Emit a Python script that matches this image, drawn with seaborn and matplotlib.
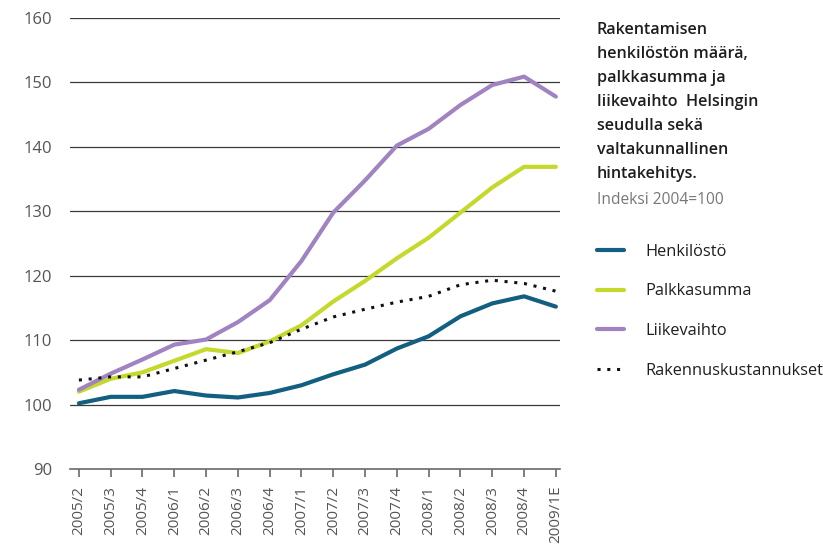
import pandas as pd
import matplotlib
matplotlib.use("Agg")
import matplotlib.pyplot as plt
import seaborn as sns

# quarters on the x axis
quarters = ["2005/2", "2005/3", "2005/4", "2006/1", "2006/2", "2006/3", "2006/4",
            "2007/1", "2007/2", "2007/3", "2007/4", "2008/1", "2008/2", "2008/3",
            "2008/4", "2009/1E"]

# index values, 2004 = 100
henkilosto = [100.2, 101.2, 101.2, 102.1, 101.4, 101.1, 101.8, 103.0,
              104.7, 106.2, 108.7, 110.6, 113.7, 115.7, 116.8, 115.2]
palkkasumma = [102.0, 104.0, 105.0, 106.8, 108.6, 108.0, 109.8, 112.3,
               116.0, 119.2, 122.7, 125.9, 129.8, 133.7, 136.9, 136.9]
liikevaihto = [102.3, 104.8, 107.0, 109.3, 110.1, 112.8, 116.2, 122.3,
               129.8, 134.8, 140.2, 142.8, 146.5, 149.6, 150.9, 147.8]
rakennus = [103.8, 104.3, 104.3, 105.6, 106.9, 108.2, 109.6, 111.7,
            113.6, 114.8, 115.9, 116.8, 118.6, 119.3, 118.8, 117.6]

series_names = ["Henkilöstö", "Palkkasumma", "Liikevaihto", "Rakennuskustannukset"]
colors = ["#125f80", "#c5d92d", "#a183c2", "#111111"]

# long form table for seaborn
rows = []
for name, vals in zip(series_names, [henkilosto, palkkasumma, liikevaihto, rakennus]):
    for i, v in enumerate(vals):
        rows.append({"pos": i, "quarter": quarters[i], "sarja": name, "arvo": v})
df = pd.DataFrame(rows)

sns.set_style("white")
plt.rcParams["font.family"] = ["Open Sans", "DejaVu Sans"]

fig = plt.figure(figsize=(8.23, 5.46), dpi=100)
ax = fig.add_axes([70 / 823, 1 - 469 / 546, 490 / 823, 451 / 546])

# grid lines first so the series sit on top
for yv in range(100, 161, 10):
    ax.axhline(yv, color="#3a3a3a", lw=0.9, zorder=1)

# solid lines
for name, col in zip(series_names[:3], colors[:3]):
    sns.lineplot(data=df[df["sarja"] == name], x="pos", y="arvo", color=col,
                 lw=3.0, ax=ax, label=name, zorder=3, solid_capstyle="round")

# dotted price line
sns.lineplot(data=df[df["sarja"] == series_names[3]], x="pos", y="arvo",
             color=colors[3], lw=2.2, ls=(0, (1, 2.2)), ax=ax,
             label=series_names[3], zorder=4)

ax.set_xlim(-0.28, 15.13)
ax.set_ylim(90, 160)
ax.set_yticks(range(90, 161, 10))
ax.set_xticks(range(len(quarters)))
ax.set_xticklabels(quarters, rotation=90)
ax.set_xlabel("")
ax.set_ylabel("")

for s in ["left", "right", "top"]:
    ax.spines[s].set_visible(False)
ax.spines["bottom"].set_color("#6a6a6a")
ax.spines["bottom"].set_linewidth(1.2)

ax.tick_params(axis="y", length=0, pad=13, labelsize=12, labelcolor="#555555")
ax.tick_params(axis="x", direction="out", length=6, width=1.2, color="#6a6a6a",
               pad=6, labelsize=11, labelcolor="#555555", bottom=True)

# title block at the right
title = ("Rakentamisen\nhenkilöstön määrä,\npalkkasumma ja\n"
         "liikevaihto  Helsingin\nseudulla sekä\nvaltakunnallinen\nhintakehitys.")
fig.text(597 / 823, 1 - 22 / 546, title, ha="left", va="top", fontsize=11.6,
         color="#1e1e1e", fontweight="semibold", linespacing=1.66)
fig.text(597 / 823, 1 - 192 / 546, "Indeksi 2004=100", ha="left", va="top",
         fontsize=11.2, color="#777777")

handles, labels = ax.get_legend_handles_labels()
leg = fig.legend(handles, labels, loc="upper left",
                 bbox_to_anchor=(590 / 823, 1 - 237 / 546), frameon=False,
                 fontsize=11.8, handlelength=1.7, handletextpad=1.3,
                 labelspacing=1.45, borderaxespad=0)
for t in leg.get_texts():
    t.set_color("#1e1e1e")
if ax.get_legend():
    ax.get_legend().remove()

fig.savefig("out.png", dpi=100)
